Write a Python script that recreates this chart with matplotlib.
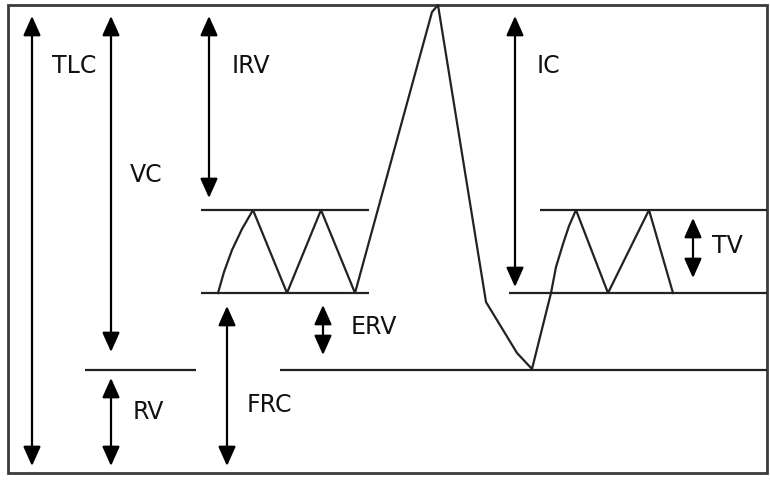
import matplotlib.pyplot as plt
from matplotlib.patches import Rectangle

# 図の座標系はピクセルに合わせる (y は下向き)
frame = (8, 5, 767, 473)  # left, top, right, bottom

# 水平線 (y, x開始, x終了)
h_lines = [
    (210, 201, 369),   # 左 吸気レベル
    (293, 201, 369),   # 左 FRC レベル
    (370, 85, 196),    # RV (左)
    (370, 280, 767),   # RV (右)
    (210, 540, 767),   # 右 吸気レベル
    (293, 509, 767),   # 右 FRC レベル
]

# 呼吸曲線
wave_x = [218, 224, 232, 242, 253, 287, 321, 355, 432, 438, 486, 517, 532,
          551, 556, 563, 569, 576, 608, 649, 673]
wave_y = [293, 272, 250, 229, 210, 293, 210, 293, 12, 5, 302, 353, 369,
          293, 267, 244, 226, 210, 293, 210, 293]

# 矢印 (x, 上端, 下端)
arrows = [
    (32, 16, 466),    # TLC
    (111, 16, 352),   # VC
    (209, 16, 198),   # IRV
    (111, 378, 466),  # RV
    (227, 306, 466),  # FRC
    (323, 305, 355),  # ERV
    (515, 16, 287),   # IC
    (693, 218, 278),  # TV
]

# ラベル (文字, x, y)
labels = [
    ("TLC", 52, 66),
    ("VC", 130, 175),
    ("IRV", 232, 66),
    ("IC", 537, 66),
    ("TV", 712, 246),
    ("ERV", 351, 327),
    ("RV", 133, 412),
    ("FRC", 247, 405),
]

fig = plt.figure(figsize=(7.7, 4.8), dpi=100)
ax = fig.add_axes([0, 0, 1, 1])
ax.set_xlim(0, 770)
ax.set_ylim(480, 0)
ax.axis("off")

l, t, r, b = frame
ax.add_patch(Rectangle((l, t), r - l, b - t, fill=False, edgecolor="#3a3a3a", lw=2))

for y, x0, x1 in h_lines:
    ax.plot([x0, x1], [y, y], color="#222222", lw=1.6, solid_capstyle="butt")

ax.plot(wave_x, wave_y, color="#222222", lw=1.6)

for x, y0, y1 in arrows:
    ax.annotate("", xy=(x, y0), xytext=(x, y1),
                arrowprops=dict(arrowstyle="<|-|>,head_length=0.85,head_width=0.38",
                                color="black", lw=1.6, mutation_scale=14,
                                shrinkA=0, shrinkB=0))

for txt, x, y in labels:
    ax.text(x, y, txt, fontsize=17, ha="left", va="center", color="#111111")

fig.savefig("out.png", dpi=100)
